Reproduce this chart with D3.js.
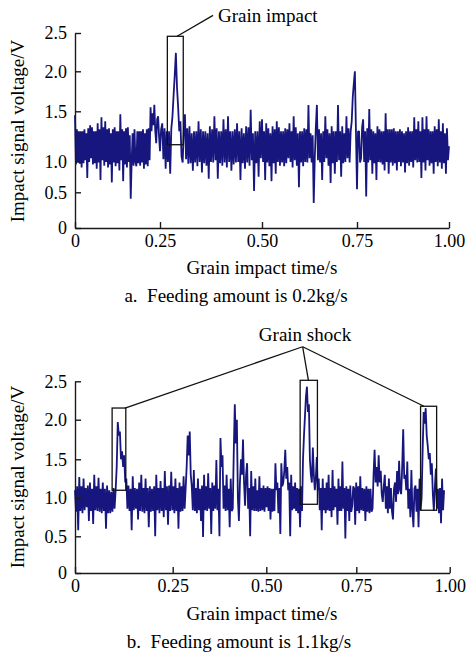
<!DOCTYPE html>
<html>
<head>
<meta charset="utf-8">
<script src="https://cdn.jsdelivr.net/npm/d3@7"></script>
<style>
  body { margin: 0; background: #fff; }
  svg text { font-family: "Liberation Serif", "Times New Roman", serif; fill: #000; }
</style>
</head>
<body>
<div id="graph"></div>
<script>
// tick values and labels (shared by both panels)
var timeTicks = [0, 0.25, 0.5, 0.75, 1];
var timeTickLabels = ["0", "0.25", "0.50", "0.75", "1.00"];
var voltTicks = [0, 0.5, 1, 1.5, 2, 2.5];
var voltTickLabels = ["0", "0.5", "1.0", "1.5", "2.0", "2.5"];

// impact signal, feeding 0.2kg/s (V), evenly sampled from 0 to 1.00 s
var voltageA = [
  // 0 - 0.25 s
  1.46,0.95,1.32,0.98,1.30,0.96,1.30,0.90,1.30,0.97, 1.32,1.01,1.28,0.73,1.33,0.99,1.36,1.03,1.34,0.95,
  1.30,0.97,1.30,0.88,1.38,0.98,1.32,0.70,1.44,1.01, 1.34,0.93,1.40,0.99,1.32,0.90,1.33,0.95,1.28,0.66,
  1.32,0.98,1.34,0.92,1.30,0.97,1.30,0.85,1.47,1.01, 1.32,0.68,1.30,0.95,1.33,0.90,1.34,0.99,1.26,0.41,
  1.00,1.28,0.93,1.32,0.99,0.92,1.30,0.97,1.30,0.93, 1.30,0.98,1.32,0.88,1.28,0.95,1.32,0.92,1.33,1.01,
  1.55,1.30,1.48,1.36,1.58,1.30,1.18,1.42,1.45,1.25,
  // 0.25 - 0.50 s
  1.10,1.32,1.38,1.02,1.33,0.88,1.30,0.99,1.30,0.80, 1.33,1.45,1.70,1.95,2.24,1.80,1.55,1.30,1.40,1.05,
  0.98,1.30,1.47,1.02,1.33,0.96,1.35,0.97,1.28,0.85, 1.30,0.98,1.30,0.92,1.40,0.99,1.32,0.82,1.30,0.97,
  1.30,0.93,1.28,0.72,1.35,0.99,1.32,0.98,1.45,1.01, 1.33,0.72,1.30,0.97,1.30,0.93,1.42,0.98,1.32,0.90,
  1.45,0.99,1.30,0.85,1.30,0.95,1.32,0.98,1.38,0.99, 1.30,0.70,1.33,0.97,1.28,0.88,1.35,0.98,1.34,0.93,
  1.52,1.01,1.28,0.52,1.30,0.97,1.30,0.75,1.40,1.03,
  // 0.50 - 0.75 s
  1.42,0.99,1.30,0.70,1.38,0.98,1.33,0.92,1.28,0.68, 1.35,0.97,1.32,0.80,1.40,0.99,1.34,0.93,1.30,0.98,
  1.30,0.92,1.33,0.97,1.32,1.03,1.38,0.99,1.30,0.90, 1.45,1.01,1.34,0.93,1.28,0.58,1.30,0.98,1.30,0.92,
  1.33,0.99,1.32,0.98,1.58,1.03,1.28,0.98,1.26,0.35, 1.03,1.34,1.58,1.01,1.32,0.98,1.28,0.70,1.30,0.99,
  1.45,1.03,1.32,0.93,1.28,0.65,1.35,0.97,1.30,0.80, 1.30,0.99,1.58,1.01,1.30,0.75,1.35,0.97,1.28,0.99,
  1.45,1.03,1.33,0.98,1.30,1.40,1.68,1.85,2.00,1.30,
  // 0.75 - 1.00 s
  0.55,1.30,1.30,0.98,1.03,1.34,1.42,0.99,1.30,0.44, 1.33,0.98,1.53,1.01,1.32,0.80,1.30,0.97,1.28,0.70,
  1.35,0.99,1.32,0.98,1.30,0.95,1.30,0.85,1.48,0.99, 1.32,0.80,1.32,0.98,1.32,0.93,1.33,0.97,1.30,0.85,
  1.30,0.99,1.32,0.92,1.30,0.98,1.28,0.82,1.30,0.97, 1.34,0.93,1.30,0.99,1.30,0.90,1.44,1.01,1.32,0.98,
  1.40,0.99,1.30,0.73,1.44,0.98,1.32,0.85,1.45,1.01, 1.32,0.93,1.30,0.97,1.30,0.80,1.35,0.99,1.32,0.92,
  1.42,0.98,1.30,0.88,1.38,0.97,1.28,0.80,1.33,1.01,
  1.15
];
var endTimeA = 1.0;

// impact signal, feeding 1.1kg/s (V), evenly sampled from 0 to 0.985 s
var voltageB = [
  // 0 - 0.25 s
  1.10,0.82,1.15,0.58,1.27,0.83,1.15,0.80,1.25,0.84, 1.13,0.88,1.16,0.70,1.20,0.83,1.12,0.66,1.30,0.84,
  1.15,0.83,1.26,0.82,1.12,0.80,1.20,0.83,1.12,0.60, 1.16,0.80,1.10,0.80,1.08,0.82,1.13,0.86,1.10,1.40,
  1.97,1.80,1.85,1.50,1.60,1.40,1.55,1.20,1.25,0.86, 1.16,0.83,1.12,0.58,1.28,0.84,1.13,0.86,1.12,0.72,
  1.20,0.83,1.30,0.82,1.13,0.80,1.25,0.83,1.13,0.62, 1.15,0.82,1.12,0.83,1.15,0.50,1.30,0.84,1.13,0.80,
  1.22,0.83,1.13,0.75,1.35,0.84,1.15,0.65,1.16,0.83,
  // 0.25 - 0.50 s
  1.34,0.84,1.15,0.80,1.25,0.83,1.13,0.60,1.20,0.82, 1.15,0.83,1.28,0.86,1.12,1.40,1.80,1.55,1.85,1.30,
  1.15,0.84,1.36,0.83,1.13,0.80,1.25,0.84,1.12,0.70, 1.16,0.49,1.30,0.84,1.15,0.83,1.32,0.86,1.13,0.53,
  1.20,0.83,1.16,0.86,1.49,0.84,1.12,0.50,1.77,1.40, 1.55,0.86,1.16,0.83,1.30,0.84,1.12,0.62,1.25,0.83,
  0.86,1.60,2.20,1.70,2.00,1.00,0.70,1.20,1.50,1.30, 1.75,1.20,0.90,1.30,1.45,0.86,1.13,0.50,1.35,0.84,
  1.15,0.83,1.25,0.83,1.10,0.82,1.28,0.83,1.13,0.84,
  // 0.50 - 0.75 s
  1.16,0.82,1.13,0.88,1.15,0.83,1.13,0.72,1.12,0.82, 1.12,0.83,1.45,1.10,1.20,0.80,1.13,0.53,1.45,1.15,
  1.20,1.35,1.62,1.25,1.40,1.10,1.20,0.50,1.30,0.84, 1.15,0.86,1.20,0.83,1.13,0.80,1.12,0.62,1.15,0.83,
  1.50,1.80,2.05,2.30,2.43,2.10,2.20,1.50,1.30,1.20, 1.65,1.30,1.10,1.25,1.53,1.10,1.25,0.84,1.13,0.58,
  1.25,0.84,1.13,0.80,1.20,0.84,1.30,0.83,1.13,0.75, 1.36,0.84,1.15,0.88,1.12,0.65,1.25,0.83,1.15,0.83,
  1.47,0.86,1.13,0.47,1.15,0.83,1.12,0.70,1.16,0.82,
  // 0.75 - 0.985 s
  0.90,1.15,1.12,0.65,1.20,0.83,1.15,0.80,1.28,0.84, 1.13,0.83,1.12,0.70,1.15,0.82,1.12,0.80,1.12,0.82,
  0.86,1.30,1.62,1.20,1.40,1.15,1.55,1.20,1.35,1.05, 0.95,1.15,1.30,0.86,1.15,0.80,1.25,0.86,1.13,0.83,
  0.72,1.12,1.20,0.95,1.35,1.05,1.48,1.10,1.05,1.40, 1.88,1.25,1.30,1.10,1.47,0.86,1.12,0.75,1.36,0.84,
  0.62,1.12,1.16,0.82,1.12,0.62,1.25,0.84,1.00,1.60, 2.10,1.95,2.15,1.80,1.67,1.50,1.58,1.30,1.45,1.05,
  0.83,1.15,1.38,0.86,1.12,0.80,1.13,0.67,1.25,0.84,
  1.10
];
var endTimeB = 0.985;

// highlight boxes [t0, t1, v0, v1]
var boxesA = [[0.268, 0.307, 1.166, 2.457]];
var boxesB = [[0.095, 0.130, 1.10, 2.152], [0.594, 0.642, 0.918, 2.513], [0.922, 0.965, 0.84, 2.175]];

// annotation text and leader lines, in data units [t, v]
var labelA = {text: "Grain impact", at: [0.392, 2.65], anchor: "start"};
var leadersA = [[[0.292, 2.457], [0.380, 2.73]]];
var labelB = {text: "Grain shock", at: [0.6075, 3.03], anchor: "middle"};
var leadersB = [
  [[0.601, 2.95], [0.128, 2.152]],
  [[0.601, 2.95], [0.617, 2.513]],
  [[0.601, 2.95], [0.931, 2.175]]
];

var svgWidth = 467, svgHeight = 656;
var lineColor = "#16167e";

var svg = d3.select('#graph').append('svg')
  .attr("width", svgWidth)
  .attr("height", svgHeight);

function makePanel(p) {
  // the printed axes are not evenly spaced, so use piecewise scales
  var x = d3.scaleLinear().domain(timeTicks).range(p.xRange);
  var y = d3.scaleLinear().domain(voltTicks).range(p.yRange);

  var g = svg.append('g');

  var n = p.values.length;
  var data = p.values.map(function(v, i) {
    return {t: i * p.endTime / (n - 1), v: v};
  });

  var signal = d3.line()
    .x(function(d) { return x(d.t); })
    .y(function(d) { return y(d.v); });

  g.append("path")
    .datum(data)
    .attr("fill", "none")
    .attr("stroke", lineColor)
    .attr("stroke-width", 1.8)
    .attr("stroke-linejoin", "bevel")
    .attr("d", signal);

  // axes, ticks pointing inward
  var yAxis = g.append("g")
    .attr("transform", "translate(" + p.xRange[0] + ",0)")
    .call(d3.axisLeft(y)
      .tickValues(voltTicks)
      .tickFormat(function(d, i) { return voltTickLabels[i]; })
      .tickSizeInner(-6)
      .tickSizeOuter(0)
      .tickPadding(8));

  var xAxis = g.append("g")
    .attr("transform", "translate(0," + p.yRange[0] + ")")
    .call(d3.axisBottom(x)
      .tickValues(timeTicks)
      .tickFormat(function(d, i) { return timeTickLabels[i]; })
      .tickSizeInner(-6)
      .tickSizeOuter(0)
      .tickPadding(6));

  [yAxis, xAxis].forEach(function(a) {
    a.attr("font-family", null).attr("font-size", null);
    a.selectAll("path, line").attr("stroke", "#1a1a1a").attr("stroke-width", 1.4);
    a.selectAll("text").style("font-size", "18px").attr("fill", "#000");
  });

  // boxes round the grain hits
  g.selectAll(".box")
    .data(p.boxes)
    .enter().append("rect")
    .attr("class", "box")
    .attr("x", function(d) { return x(d[0]); })
    .attr("y", function(d) { return y(d[3]); })
    .attr("width", function(d) { return x(d[1]) - x(d[0]); })
    .attr("height", function(d) { return y(d[2]) - y(d[3]); })
    .attr("fill", "none")
    .attr("stroke", "#111")
    .attr("stroke-width", 1.3);

  g.selectAll(".leader")
    .data(p.leaders)
    .enter().append("line")
    .attr("class", "leader")
    .attr("x1", function(d) { return x(d[0][0]); })
    .attr("y1", function(d) { return y(d[0][1]); })
    .attr("x2", function(d) { return x(d[1][0]); })
    .attr("y2", function(d) { return y(d[1][1]); })
    .attr("stroke", "#111")
    .attr("stroke-width", 1.3);

  g.append("text")
    .attr("x", x(p.label.at[0]))
    .attr("y", y(p.label.at[1]))
    .attr("text-anchor", p.label.anchor)
    .style("font-size", "19px")
    .text(p.label.text);

  // titles
  g.append("text")
    .attr("transform", "translate(24," + p.yTitleCenter + ") rotate(-90)")
    .attr("text-anchor", "middle")
    .style("font-size", "19px")
    .text("Impact signal voltage/V");

  g.append("text")
    .attr("x", p.xTitleCenter)
    .attr("y", p.xTitleY)
    .attr("text-anchor", "middle")
    .style("font-size", "19px")
    .text("Grain impact time/s");

  g.append("text")
    .attr("x", p.captionCenter)
    .attr("y", p.captionY)
    .attr("text-anchor", "middle")
    .style("font-size", "19px")
    .style("white-space", "pre")
    .text(p.caption);
}

makePanel({
  values: voltageA, endTime: endTimeA, boxes: boxesA, leaders: leadersA, label: labelA,
  xRange: [75, 160, 262, 357, 449],
  yRange: [228, 192.3, 161.3, 111.3, 71.3, 33],
  yTitleCenter: 131, xTitleCenter: 262, xTitleY: 274,
  captionCenter: 236, captionY: 302,
  caption: "a.  Feeding amount is 0.2kg/s"
});

makePanel({
  values: voltageB, endTime: endTimeB, boxes: boxesB, leaders: leadersB, label: labelB,
  xRange: [75, 172.7, 266.3, 356.3, 449.7],
  yRange: [573, 536.3, 498, 459.3, 419.7, 381.3],
  yTitleCenter: 477, xTitleCenter: 262, xTitleY: 620,
  captionCenter: 239, captionY: 648,
  caption: "b.  Feeding amount is 1.1kg/s"
});
</script>
</body>
</html>
